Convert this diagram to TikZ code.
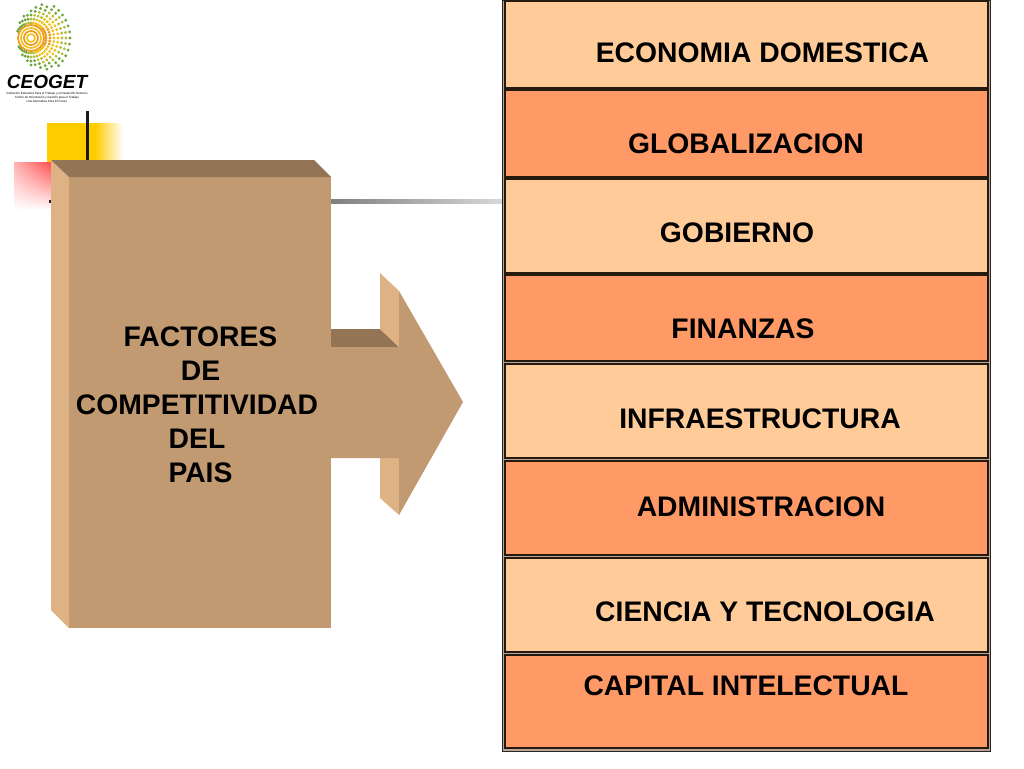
\documentclass[tikz,border=0pt]{standalone}
\usepackage{fontspec}
\setmainfont{Liberation Sans}
\usepackage{xcolor}
\usetikzlibrary{positioning, shadings}
\definecolor{boxlight}{HTML}{FFCC99}
\definecolor{boxdark}{HTML}{FF9966}
\definecolor{boxframe}{HTML}{BBA594}
\definecolor{woodfront}{HTML}{C19A72}
\definecolor{woodleft}{HTML}{DFB286}
\definecolor{woodtop}{HTML}{937556}
\definecolor{logogreen}{HTML}{6EA63E}
\definecolor{logolime}{HTML}{B4BE3A}
\definecolor{logoyellow}{HTML}{F2C11C}
\definecolor{logoorange}{HTML}{EE9A1E}
\definecolor{signyellow}{HTML}{FFCC00}
\begin{document}
\begin{tikzpicture}[
  x=1pt, y=-1pt,
  band/.style={
    rectangle, draw=black!80!brown, line width=1.4pt,
    inner sep=0pt, outer sep=0pt,
    minimum width=483pt,
    anchor=north west
  },
  lightband/.style={band, fill=boxlight},
  darkband/.style={band, fill=boxdark},
  caption/.style={font=\bfseries\fontsize{28.3}{34}\selectfont, text=black, inner sep=0pt},
  bigcaption/.style={caption, align=center},
]
\useasboundingbox (0,0) rectangle (1024,768);

% --- Logo ---
\foreach \ang in {0,9,...,351} {
  \foreach \rad in {15,19,...,47} {
    \pgfmathsetmacro{\px}{31+\rad*cos(\ang)}
    \pgfmathsetmacro{\py}{38+\rad*sin(\ang)}
    \pgfmathsetmacro{\edgegap}{1-sqrt(((\px-45)/28)^2+((\py-37)/33)^2)}
    \ifdim\edgegap pt>0pt
      \ifdim\edgegap pt<0.2pt \def\dotcol{logogreen}\else
      \ifdim\edgegap pt<0.4pt \def\dotcol{logolime}\else
      \ifdim\edgegap pt<0.7pt \def\dotcol{logoyellow}\else \def\dotcol{logoorange}\fi\fi\fi
      \fill[\dotcol] (\px,\py) circle[radius=1.6];
    \fi
  }
}
\foreach \rad/\col in {13/logoorange,10/logoyellow,7/logoorange,4/logoyellow} {
  \draw[\col, line width=1.7pt] (31,38) circle[radius=\rad];
}
\node[inner sep=0pt, font=\bfseries\itshape\fontsize{19}{19}\selectfont] (LOGO) at (47,82) {CEOGET};
\node[inner sep=0pt, align=center, font=\fontsize{3}{4.2}\selectfont, below=3pt of LOGO] (LOGOSUB)
  {Institución Educativa Para el Trabajo y el Desarrollo Humano\\ Centro de Orientación y Gestión para el Trabajo\\ Una Alternativa Para El Futuro};

% --- Squares behind the block ---
\fill[signyellow] (47,123) rectangle (95,165);
\shade[left color=signyellow, right color=white] (95,123) rectangle (123,165);
\shade[upper right=red!70, upper left=red!30, lower right=white, lower left=white] (14,162) rectangle (51,210);
\draw[black!90, line width=3pt] (87,111) -- (87,160);
\fill[black!85] (49,199.5) rectangle (52,203);

% --- Line to the column ---
\shade[left color=black!50, right color=black!15] (331,199.5) rectangle (503,203.5);

% --- Block ---
\fill[woodfront] (69,177) rectangle (331,628);
\fill[woodleft] (51,160) -- (69,177) -- (69,628) -- (51,610) -- cycle;
\fill[woodtop] (51,160) -- (314,160) -- (331,177) -- (69,177) -- cycle;

% --- Arrow ---
\fill[woodtop] (331,329) -- (380,329) -- (399,347) -- (331,347) -- cycle;
\fill[woodleft] (380,273) -- (399,291) -- (399,347) -- (380,329) -- cycle;
\fill[woodleft] (380,458) -- (399,458) -- (399,515) -- (380,498) -- cycle;
\fill[woodfront] (331,347) -- (399,347) -- (399,291) -- (463,402) -- (399,515) -- (399,458) -- (331,458) -- cycle;

\node[bigcaption] (TITLE) at (197,405) {\hspace*{7pt}FACTORES\\ \hspace*{7pt}DE\\ COMPETITIVIDAD\\ DEL\\ \hspace*{7pt}PAIS};

% --- Column ---
\draw[draw=black!85, fill=boxframe, line width=1.1pt] (502.5,0) rectangle (990.5,751.5);

\node[lightband, minimum height=87pt] (B1) at (505,1) {};
\node[darkband, minimum height=87pt] (B2) at (505,90) {};
\node[lightband, minimum height=94pt] (B3) at (505,179) {};
\node[darkband, minimum height=86pt] (B4) at (505,275) {};
\node[lightband, minimum height=94pt] (B5) at (505,364) {};
\node[darkband, minimum height=94pt] (B6) at (505,461) {};
\node[lightband, minimum height=94pt] (B7) at (505,558) {};
\node[darkband, minimum height=93pt] (B8) at (505,655) {};

% --- Labels ---
\node[caption] (T1) at (762.5,53) {ECONOMIA DOMESTICA};
\node[caption] (T2) at (746,144) {GLOBALIZACION};
\node[caption] (T3) at (737,233) {GOBIERNO};
\node[caption] (T4) at (743,329) {FINANZAS};
\node[caption] (T5) at (760,419) {INFRAESTRUCTURA};
\node[caption] (T6) at (761,507) {ADMINISTRACION};
\node[caption] (T7) at (765,612) {CIENCIA Y TECNOLOGIA};
\node[caption] (T8) at (746,686) {CAPITAL INTELECTUAL};

\end{tikzpicture}
\end{document}
